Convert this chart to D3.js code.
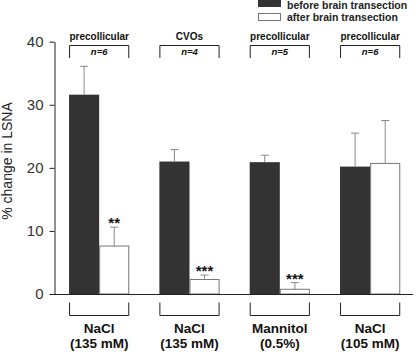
<!DOCTYPE html>
<html>
<head>
<meta charset="utf-8">
<script src="https://cdn.jsdelivr.net/npm/d3@7"></script>
<style>
  body { margin: 0; background: #fff; }
  text { font-family: Arial, "Liberation Sans", sans-serif; }
</style>
</head>
<body>
<div class="chart"></div>
<script>
// data
var groups = ["g1", "g2", "g3", "g4"];
var regions = ["precollicular", "CVOs", "precollicular", "precollicular"];
var nLabels = ["n=6", "n=4", "n=5", "n=6"];
var solutes = ["NaCl", "NaCl", "Mannitol", "NaCl"];
var concentrations = ["(135 mM)", "(135 mM)", "(0.5%)", "(105 mM)"];
var before = [31.6, 21.0, 20.9, 20.2];
var beforeErr = [4.5, 1.9, 1.1, 5.3];
var after = [7.6, 2.3, 0.75, 20.7];
var afterErr = [3.0, 0.7, 1.05, 6.8];
var stars = ["**", "***", "***", ""];
var yTicks = [0, 10, 20, 30, 40];
var seriesNames = ["before brain transection", "after brain transection"];

var width = 416, height = 352;
var svg = d3.select(".chart").append("svg")
  .attr("width", width)
  .attr("height", height);

var x = d3.scaleBand().domain(groups).range([54, 415.3])
  .paddingInner(1 / 3).paddingOuter(1 / 6);
var xs = d3.scaleBand().domain(["before", "after"]).range([0, x.bandwidth()]);
var y = d3.scaleLinear().domain([0, 40]).range([294, 41.7]);

// y axis
var yAxis = svg.append("g")
  .attr("transform", "translate(54.5,0)")
  .call(d3.axisLeft(y).tickValues(yTicks).tickSize(5).tickSizeOuter(0).tickPadding(6));
yAxis.select(".domain").attr("stroke", "#222");
yAxis.selectAll(".tick line").attr("stroke", "#222");
yAxis.selectAll(".tick text")
  .attr("font-size", 15)
  .attr("fill", "#333")
  .attr("font-family", "Arial, 'Liberation Sans', sans-serif");

svg.append("text")
  .attr("transform", "translate(11.5," + 161 + ") rotate(-90)")
  .attr("text-anchor", "middle")
  .attr("font-size", 14)
  .attr("fill", "#222")
  .text("% change in LSNA");

var rows = groups.map(function (g, i) {
  return { g: g, i: i };
});

// bars
var bar = svg.append("g").selectAll("g").data(rows).enter().append("g")
  .attr("transform", function (d) { return "translate(" + x(d.g) + ",0)"; });

bar.append("rect")
  .attr("x", xs("before"))
  .attr("y", function (d) { return y(before[d.i]); })
  .attr("width", xs.bandwidth())
  .attr("height", function (d) { return y(0) - y(before[d.i]); })
  .attr("fill", "#333");

bar.append("rect")
  .attr("x", xs("after") + 0.5)
  .attr("y", function (d) { return y(after[d.i]); })
  .attr("width", xs.bandwidth() - 1)
  .attr("height", function (d) { return y(0) - y(after[d.i]); })
  .attr("fill", "#fff")
  .attr("stroke", "#777")
  .attr("stroke-width", 1);

// error bars (upper only)
function errBars(key, vals, errs) {
  var cx = xs(key) + xs.bandwidth() / 2;
  bar.append("line")
    .attr("x1", cx).attr("x2", cx)
    .attr("y1", function (d) { return y(vals[d.i]); })
    .attr("y2", function (d) { return y(vals[d.i] + errs[d.i]); })
    .attr("stroke", "#888");
  bar.append("line")
    .attr("x1", cx - 4).attr("x2", cx + 4)
    .attr("y1", function (d) { return y(vals[d.i] + errs[d.i]); })
    .attr("y2", function (d) { return y(vals[d.i] + errs[d.i]); })
    .attr("stroke", "#888");
}
errBars("before", before, beforeErr);
errBars("after", after, afterErr);

bar.append("text")
  .attr("x", xs("after") + xs.bandwidth() / 2)
  .attr("y", function (d) { return y(after[d.i] + afterErr[d.i]) + 1; })
  .attr("text-anchor", "middle")
  .attr("font-size", 15)
  .attr("font-weight", "bold")
  .attr("fill", "#111")
  .text(function (d) { return stars[d.i]; });

// x baseline
svg.append("line")
  .attr("x1", 54).attr("x2", 413)
  .attr("y1", y(0) + 0.5).attr("y2", y(0) + 0.5)
  .attr("stroke", "#222");

// top brackets
bar.append("path")
  .attr("d", "M0.5,58V45.5H" + (x.bandwidth() - 0.5) + "V58")
  .attr("fill", "none")
  .attr("stroke", "#222");
bar.append("text")
  .attr("x", x.bandwidth() / 2).attr("y", 40)
  .attr("text-anchor", "middle")
  .attr("font-size", 10).attr("font-weight", "bold")
  .attr("fill", "#111")
  .text(function (d) { return regions[d.i]; });
bar.append("text")
  .attr("x", x.bandwidth() / 2).attr("y", 55)
  .attr("text-anchor", "middle")
  .attr("font-size", 9.5).attr("font-weight", "bold").attr("font-style", "italic")
  .attr("fill", "#111")
  .text(function (d) { return nLabels[d.i]; });

// bottom brackets
bar.append("path")
  .attr("d", "M0.5,302.5V315.5H" + (x.bandwidth() - 0.5) + "V302.5")
  .attr("fill", "none")
  .attr("stroke", "#222");
bar.append("text")
  .attr("x", x.bandwidth() / 2).attr("y", 333)
  .attr("text-anchor", "middle")
  .attr("font-size", 13.5).attr("font-weight", "bold")
  .attr("fill", "#111")
  .text(function (d) { return solutes[d.i]; });
bar.append("text")
  .attr("x", x.bandwidth() / 2).attr("y", 347.5)
  .attr("text-anchor", "middle")
  .attr("font-size", 13.5).attr("font-weight", "bold")
  .attr("fill", "#111")
  .text(function (d) { return concentrations[d.i]; });

// legend
var legend = svg.append("g").attr("transform", "translate(258,0)");
legend.append("rect")
  .attr("x", 0).attr("y", 0).attr("width", 23).attr("height", 7)
  .attr("fill", "#333");
legend.append("rect")
  .attr("x", 0.5).attr("y", 13.5).attr("width", 22).attr("height", 7)
  .attr("fill", "#fff").attr("stroke", "#777");
legend.selectAll("text.lg").data(seriesNames).enter().append("text")
  .attr("class", "lg")
  .attr("x", 29)
  .attr("y", function (d, i) { return 8.5 + i * 12.5; })
  .attr("font-size", 10.5).attr("font-weight", "bold")
  .attr("fill", "#222")
  .text(function (d) { return d; });
</script>
</body>
</html>
